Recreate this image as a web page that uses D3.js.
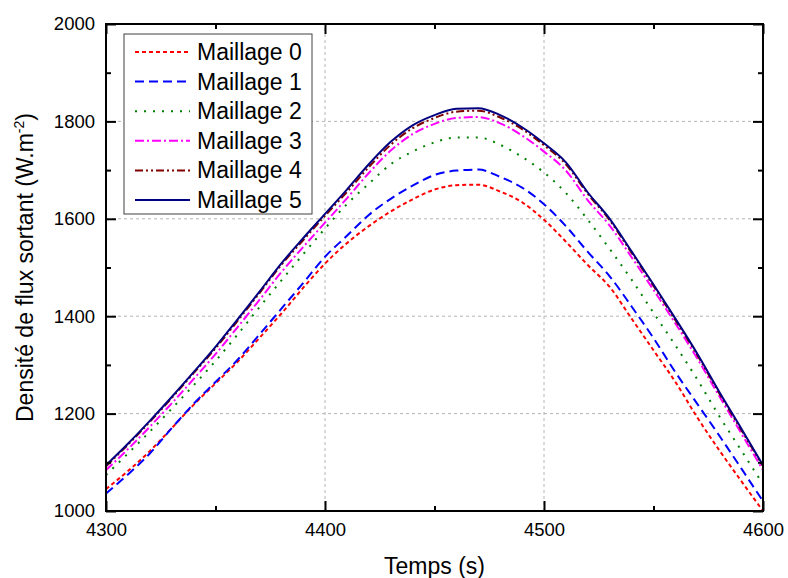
<!DOCTYPE html>
<html>
<head>
<meta charset="utf-8">
<script src="https://cdn.jsdelivr.net/npm/d3@7"></script>
<style>
  body { margin: 0; background: #fff; }
  text { font-family: "Liberation Sans", Arial, sans-serif; }
</style>
</head>
<body>
<script>
// temps (s)
var temps = [4300,4310,4320,4330,4340,4350,4360,4370,4380,4390,4400,4410,4420,4430,4440,4450,
             4460,4470,4480,4490,4500,4510,4520,4530,4540,4550,4560,4570,4580,4590,4600];

// densite de flux sortant, une liste par maillage
var maillage0 = [1045,1082,1123,1170,1218,1262,1306,1355,1405,1458,1508,1550,1585,1615,1640,1660,
                 1669,1670,1656,1634,1598,1553,1505,1460,1395,1330,1265,1192,1125,1062,1000];
var maillage1 = [1036,1075,1118,1170,1220,1265,1310,1362,1415,1468,1522,1565,1608,1641,1668,1690,
                 1699,1701,1686,1664,1630,1585,1532,1482,1420,1355,1285,1220,1155,1088,1020];
var maillage2 = [1074,1118,1163,1210,1258,1308,1362,1418,1473,1527,1580,1630,1672,1712,1738,1757,
                 1767,1767,1752,1727,1695,1653,1598,1538,1475,1407,1340,1270,1195,1125,1055];
var maillage3 = [1084,1127,1173,1221,1271,1322,1377,1433,1490,1542,1592,1642,1694,1740,1774,1795,
                 1807,1809,1796,1771,1738,1699,1638,1586,1521,1454,1385,1313,1236,1160,1084];
var maillage4 = [1092,1136,1183,1232,1283,1334,1390,1447,1505,1556,1606,1655,1706,1752,1786,1807,
                 1820,1822,1808,1784,1751,1712,1651,1597,1530,1462,1392,1320,1242,1167,1092];
var maillage5 = [1094,1138,1185,1234,1285,1337,1393,1450,1508,1560,1610,1660,1712,1758,1792,1813,
                 1826,1827,1813,1788,1755,1716,1654,1600,1533,1465,1395,1323,1245,1170,1094];

var noms = ['Maillage 0','Maillage 1','Maillage 2','Maillage 3','Maillage 4','Maillage 5'];
var couleurs = ['#ff0000','#0000ff','#008000','#ff00ff','#800000','#000080'];
var tirets = ['4,3','9,5','2,7','9,3,2,3','8,3,2,3,2,3',null];

var xMajeur = [4300,4400,4500,4600];
var xMineur = [4350,4450,4550];
var yMajeur = [1000,1200,1400,1600,1800,2000];
var yMineur = [1100,1300,1500,1700,1900];

var series = [maillage0,maillage1,maillage2,maillage3,maillage4,maillage5];

var svg = d3.select('body').append('svg')
    .attr('width',788)
    .attr('height',578);

var x = d3.scaleLinear().domain([4300,4600]).range([106,763]);
var y = d3.scaleLinear().domain([1000,2000]).range([511,24]);

//grille
svg.append('g').selectAll('line')
    .data([1200,1400,1600,1800]).enter().append('line')
    .attr('x1',x(4300)).attr('x2',x(4600))
    .attr('y1',function(d){return y(d);}).attr('y2',function(d){return y(d);})
    .style('stroke','#b4b4b4').style('stroke-width',1).style('stroke-dasharray','3,3');
svg.append('g').selectAll('line')
    .data([4400,4500]).enter().append('line')
    .attr('y1',y(1000)).attr('y2',y(2000))
    .attr('x1',function(d){return x(d);}).attr('x2',function(d){return x(d);})
    .style('stroke','#b4b4b4').style('stroke-width',1).style('stroke-dasharray','3,3');

//courbes
var ligne = d3.line()
    .x(function(d,i){return x(temps[i]);})
    .y(function(d){return y(d);})
    .curve(d3.curveMonotoneX);

for(var i=0;i<series.length;i++){
    svg.append('path')
        .attr('d',ligne(series[i]))
        .style('fill','none')
        .style('stroke',couleurs[i])
        .style('stroke-width',2)
        .style('stroke-dasharray',tirets[i]);
}

//axes
function styleAxe(g){
    g.select('.domain').remove();
    g.selectAll('line').style('stroke','#000').style('stroke-width',2);
    g.selectAll('text').style('font-size','18.5px').style('fill','#000')
        .style('font-family','"Liberation Sans", Arial, sans-serif');
}

svg.append('g').attr('transform','translate(0,'+y(1000)+')')
    .call(d3.axisBottom(x).tickValues(xMajeur).tickSize(-10).tickPadding(12).tickFormat(d3.format('d')))
    .call(styleAxe);
svg.append('g').attr('transform','translate(0,'+y(1000)+')')
    .call(d3.axisBottom(x).tickValues(xMineur).tickSize(-5).tickFormat(''))
    .call(styleAxe);
svg.append('g').attr('transform','translate(0,'+y(2000)+')')
    .call(d3.axisTop(x).tickValues(xMajeur).tickSize(-10).tickFormat(''))
    .call(styleAxe);
svg.append('g').attr('transform','translate(0,'+y(2000)+')')
    .call(d3.axisTop(x).tickValues(xMineur).tickSize(-5).tickFormat(''))
    .call(styleAxe);

svg.append('g').attr('transform','translate('+x(4300)+',0)')
    .call(d3.axisLeft(y).tickValues(yMajeur).tickSize(-10).tickPadding(11).tickFormat(d3.format('d')))
    .call(styleAxe);
svg.append('g').attr('transform','translate('+x(4300)+',0)')
    .call(d3.axisLeft(y).tickValues(yMineur).tickSize(-5).tickFormat(''))
    .call(styleAxe);
svg.append('g').attr('transform','translate('+x(4600)+',0)')
    .call(d3.axisRight(y).tickValues(yMajeur).tickSize(-10).tickFormat(''))
    .call(styleAxe);
svg.append('g').attr('transform','translate('+x(4600)+',0)')
    .call(d3.axisRight(y).tickValues(yMineur).tickSize(-5).tickFormat(''))
    .call(styleAxe);

//cadre
svg.append('rect')
    .attr('x',x(4300)).attr('y',y(2000))
    .attr('width',x(4600)-x(4300)).attr('height',y(1000)-y(2000))
    .style('fill','none').style('stroke','#000').style('stroke-width',2);

//titres des axes
svg.append('text')
    .attr('x',(x(4300)+x(4600))/2).attr('y',574)
    .attr('text-anchor','middle')
    .style('font-size','23px')
    .text('Temps (s)');

var ty = svg.append('text')
    .attr('transform','translate(33,'+((y(1000)+y(2000))/2)+') rotate(-90)')
    .attr('text-anchor','middle')
    .style('font-size','23px');
ty.append('tspan').text('Densité de flux sortant (W.m');
ty.append('tspan').attr('dy','-9').style('font-size','14px').text('-2');
ty.append('tspan').attr('dy','9').text(')');

//legende
var leg = svg.append('g');
leg.append('rect')
    .attr('x',124).attr('y',34).attr('width',188).attr('height',180)
    .style('fill','#fff').style('stroke','#404040').style('stroke-width',1);
for(var k=0;k<noms.length;k++){
    var yy = 52 + k*29.6;
    leg.append('line')
        .attr('x1',135).attr('x2',190)
        .attr('y1',yy).attr('y2',yy)
        .style('stroke',couleurs[k])
        .style('stroke-width',2)
        .style('stroke-dasharray',tirets[k]);
    leg.append('text')
        .attr('x',197).attr('y',yy+8)
        .style('font-size','23px')
        .text(noms[k]);
}
</script>
</body>
</html>
